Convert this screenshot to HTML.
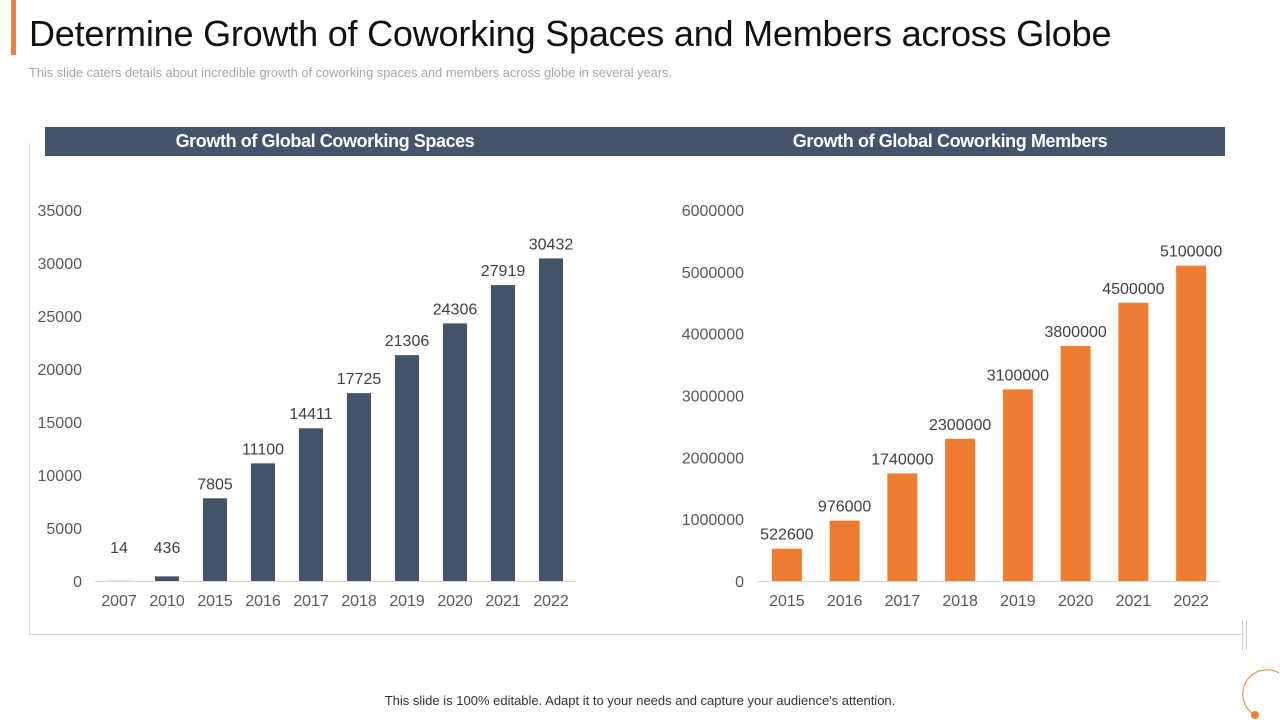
<!DOCTYPE html>
<html><head><meta charset="utf-8"><style>
body{margin:0;width:1280px;height:720px;background:#fff;font-family:"Liberation Sans",sans-serif;position:relative;overflow:hidden}
.abs{position:absolute}
</style></head><body>
<div class="abs" style="left:11px;top:0;width:5px;height:55px;background:#e8823f"></div>
<div class="abs" style="left:29px;top:13px;font-size:36px;color:#111;letter-spacing:-0.2px">Determine Growth of Coworking Spaces and Members across Globe</div>
<div class="abs" style="left:29px;top:65px;font-size:12.8px;color:#a6a6a6">This slide caters details about incredible growth of coworking spaces and members across globe in several years.</div>
<div class="abs" style="left:29px;top:143px;width:1213px;height:491px;border-left:1px solid #d9d9d9;border-bottom:1px solid #d9d9d9"></div>
<div class="abs" style="left:1242px;top:620px;width:3px;height:30px;border-left:1px solid #d0d0d0;border-right:1px solid #d0d0d0"></div>
<div class="abs" style="left:45px;top:127px;width:1180px;height:29px;background:#44546a"></div>
<div class="abs" style="left:45px;top:131px;width:560px;text-align:center;color:#fff;font-weight:bold;font-size:18px;letter-spacing:-0.4px">Growth of Global Coworking Spaces</div>
<div class="abs" style="left:670px;top:131px;width:560px;text-align:center;color:#fff;font-weight:bold;font-size:18px;letter-spacing:-0.4px">Growth of Global Coworking Members</div>
<svg class="abs" style="left:0;top:0" width="1280" height="720" id="svg"></svg>
<div class="abs" style="left:0;width:1280px;top:693px;text-align:center;font-size:13px;color:#333">This slide is 100% editable. Adapt it to your needs and capture your audience's attention.</div>
<svg class="abs" style="left:1230px;top:665px" width="50" height="55">
<path d="M49 8 A24 24 0 1 0 25 50" fill="none" stroke="#e8823f" stroke-width="1"/>
<circle cx="25" cy="50" r="4" fill="#e8823f"/></svg>
<script>
const spacesYears=["2007","2010","2015","2016","2017","2018","2019","2020","2021","2022"];
const spacesValues=[14,436,7805,11100,14411,17725,21306,24306,27919,30432];
const spacesTicks=[0,5000,10000,15000,20000,25000,30000,35000];
const membersYears=["2015","2016","2017","2018","2019","2020","2021","2022"];
const membersValues=[522600,976000,1740000,2300000,3100000,3800000,4500000,5100000];
const membersTicks=[0,1000000,2000000,3000000,4000000,5000000,6000000];
const svg=document.getElementById('svg');
const NS='http://www.w3.org/2000/svg';
function mk(t,a){const e=document.createElementNS(NS,t);for(const k in a)e.setAttribute(k,a[k]);svg.appendChild(e);return e;}
function chart(cats,vals,ticks,max,x0,x1,labelX,color,bw,prefix){
 const base=581,top=210;
 const y=v=>base-(v/max)*(base-top);
 const step=(x1-x0)/cats.length;
 const ax=mk('line',{x1:x0,x2:x1,y1:base+0.5,y2:base+0.5,stroke:'#d9d9d9'});
 
 
 ticks.forEach(t=>{const e=mk('text',{x:labelX,y:y(t)+6,'text-anchor':'end','font-size':16,fill:'#595959','font-family':'Liberation Sans'});e.textContent=t;
  
  });
 cats.forEach((c,i)=>{const cx=x0+step*(i+0.5);
  const r=mk('rect',{x:cx-bw/2,y:y(vals[i]),width:bw,height:base-y(vals[i]),fill:color});
  
  
  const ly=Math.min(y(vals[i])-9,base-28);
  const l=mk('text',{x:cx,y:ly,'text-anchor':'middle','font-size':16,fill:'#404040','font-family':'Liberation Sans'});l.textContent=vals[i];
  
  
  const xl=mk('text',{x:cx,y:606,'text-anchor':'middle','font-size':16,fill:'#595959','font-family':'Liberation Sans'});xl.textContent=c;
  
  });
}
chart(spacesYears,spacesValues,spacesTicks,35000,95,575,82,'#44546a',24,'spaces');
chart(membersYears,membersValues,membersTicks,6000000,758,1220,744,'#ed7d31',30,'members');
</script>
</body></html>
